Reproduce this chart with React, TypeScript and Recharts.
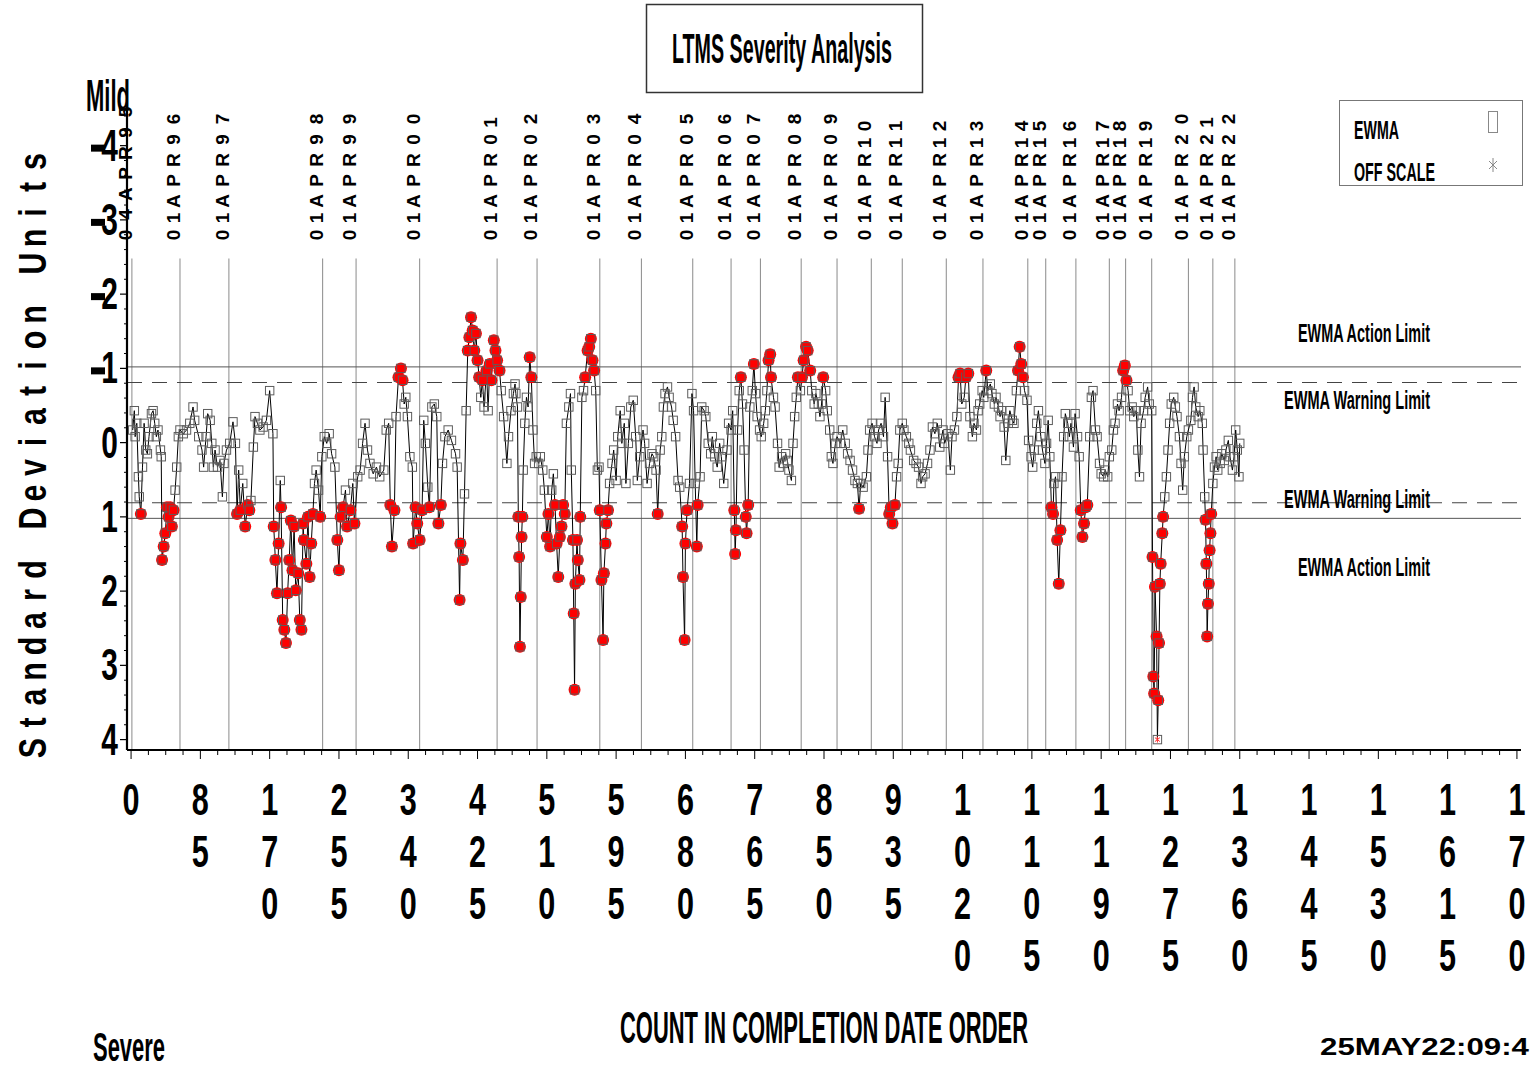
import React from 'react';
import { ComposedChart, Line, XAxis, YAxis, ReferenceLine } from 'recharts';

type Pt = [number, number];

// EWMA values: [count in completion order, standard deviation units]
const ewmaPart1: Pt[] = [
  [2,-0.17],[4,-0.43],[5,-0.08],[7,-0.26],[9,0.46],[10,0.73],[12,0.96],[14,0.33],[16,-0.26],[18,0.1],
  [20,0.15],[22,-0.08],[25,-0.39],[27,-0.43],[29,-0.26],[31,-0.08],[33,-0.17],[36,0.1],[37,0.19],[38,1.58],
  [40,1.4],[42,1.22],[44,0.87],[46,1.0],[48,0.87],[50,1.13],[52,0.91],[54,0.64],[56,0.33],[58,-0.08],
  [60,-0.17],[64,-0.12],[68,-0.17],[72,-0.26],[76,-0.48],[78,-0.3],[83,-0.08],[87,0.1],[89,0.33],[92,-0.08],
  [94,-0.39],[97,-0.3],[99,0.01],[101,0.33],[103,0.1],[106,0.33],[109,0.24],[112,0.73],[114,0.28],[117,0.1],
  [121,0.01],[125,-0.28],[128,0.01],[130,0.96],[132,0.37],[134,0.91],[137,0.55],[140,1.13],[143,0.84],[145,0.91],
  [147,0.78],[150,0.06],[152,-0.35],[155,-0.26],[158,-0.17],[162,-0.21],[166,-0.3],[170,-0.7],[174,-0.12],[175,1.13],
  [177,1.58],[179,2.03],[181,1.36],[183,0.51],[184,0.87],[186,2.39],[188,2.52],[190,2.7],[192,2.03],[194,1.58],
  [196,1.05],[198,1.72],[200,1.13],[202,1.99],[205,1.76],[207,2.39],[209,2.52],[211,1.09],[212,1.31],[215,1.63],
  [217,1.0],[219,1.81],[221,1.36],[223,0.96],[225,0.55],[227,0.37],[230,0.64],[232,1.0],[234,0.19],[237,-0.08],
  [240,0.01],[243,-0.12],[246,0.15],[250,0.33],[253,1.31],[255,1.72],[257,1.0],[260,0.87],[263,0.64],[265,1.13],
  [269,0.91],[272,0.55],[274,1.09],[278,0.46],[281,0.37],[284,0.01],[287,-0.26],[290,0.1],[293,0.28],[297,0.42],
  [301,0.33],[305,0.46],[310,0.37],[313,-0.17],[316,-0.26],[318,0.84],[320,1.4],[323,0.91],[325,-0.35],[328,-0.88],
  [331,-1.0],[333,-0.84],[335,-0.52],[337,-0.61],[339,-0.35],[342,0.19],[345,0.33],[346,1.36],[349,0.87],[351,1.09],
  [354,1.31],[357,0.91],[359,-0.3],[361,0.01],[364,0.6],[366,0.87],[369,-0.48],[372,-0.52],[375,-0.35],[377,1.09],
  [380,0.84],[382,0.28],[385,-0.08],[389,-0.17],[393,-0.03],[398,0.15],[400,0.33],[403,2.12],[404,1.36],[407,1.58],
  [409,0.69],[411,-0.43],[413,-1.24],[415,-1.42],[417,-1.69],[419,-1.51],[421,-1.24],[423,-1.47],[425,-1.11],[427,-0.88],
  [429,-0.61],[431,-0.84],[433,-0.48],[436,-0.97],[438,-0.43],[440,-1.06],[442,-0.84],[445,-1.38],[447,-1.24],[449,-1.11],
  [452,-0.97],[454,-0.7],[457,-0.35],[461,0.28],[463,-0.08],[466,-0.43],[469,-0.66],[471,-0.79],
];

const ewmaPart2: Pt[] = [
  [472,-0.66],[474,-0.48],[475,1.0],[476,1.54],[477,2.75],[478,2.08],[479,1.27],[480,1.0],[481,0.37],[483,-0.26],
  [485,-0.61],[487,-0.48],[489,-1.15],[491,-0.88],[493,-0.17],[495,0.28],[497,0.19],[500,0.28],[502,0.19],[505,0.37],
  [507,0.64],[510,1.27],[512,0.96],[514,1.4],[516,0.64],[518,0.42],[520,0.84],[522,1.36],[524,1.81],[526,1.27],
  [528,1.13],[530,0.84],[532,0.96],[534,-0.26],[537,-0.48],[539,-0.66],[540,0.37],[542,1.31],[543,2.3],[544,3.33],
  [545,1.9],[547,1.31],[548,1.58],[550,1.85],[551,1.0],[553,-0.61],[555,-0.7],[557,-0.88],[560,-1.24],[562,-1.29],
  [564,-1.4],[566,-1.11],[568,-0.97],[570,-0.7],[572,0.37],[574,0.33],[575,0.91],[577,1.85],[579,2.66],[580,1.76],
  [582,1.36],[583,1.09],[585,0.91],[587,0.55],[590,0.28],[592,0.1],[595,0.51],[597,-0.08],[600,-0.43],[602,0.01],
  [605,-0.26],[607,0.55],[610,0.01],[613,-0.48],[616,-0.57],[619,-0.08],[621,0.51],[624,0.19],[628,-0.17],[630,0.01],
  [633,0.55],[636,0.28],[639,0.15],[641,0.19],[644,0.37],[646,0.96],[649,0.1],[651,-0.08],[653,-0.48],[655,-0.66],
  [658,-0.75],[660,-0.61],[663,-0.48],[665,-0.3],[668,-0.08],[671,0.51],[673,0.6],[676,1.13],[677,1.81],[679,2.66],
  [680,1.36],[682,0.91],[685,0.55],[688,-0.66],[690,-0.43],[692,0.55],[694,1.4],[695,0.84],[698,0.46],[700,-0.48],
  [703,-0.43],[705,-0.35],[708,0.01],[711,0.15],[713,-0.08],[716,0.19],[719,0.33],[722,0.01],[724,0.19],[727,0.55],
  [731,0.1],[733,-0.26],[736,-0.17],[738,-0.43],[740,0.91],[741,1.5],[742,1.18],[744,-0.17],[746,-0.7],[748,-0.88],
  [750,-0.52],[752,0.1],[754,1.0],[755,1.22],[757,0.84],[759,-0.48],[762,-0.7],[764,-1.06],[766,-0.66],[768,-0.35],
  [771,-0.17],[773,-0.08],[776,-0.26],[778,-0.43],[780,-0.7],[782,-1.11],[784,-1.19],[785,-0.88],[788,-0.61],[790,-0.48],
  [793,0.01],[795,0.33],[798,0.19],[800,0.28],[803,0.15],[805,0.24],[807,0.37],[810,0.51],[812,0.01],[814,-0.35],
  [816,-0.61],[818,-0.88],[821,-0.7],[823,-0.88],[825,-1.11],[828,-1.29],[830,-1.24],[833,-0.97],[835,-0.7],[838,-0.52],
  [840,-0.66],[843,-0.52],[845,-0.35],[847,-0.52],[849,-0.88],[852,-0.7],[854,-0.43],[857,-0.17],[859,0.19],[861,0.28],
  [864,0.01],[866,-0.08],[870,0.01],[873,-0.17],[876,0.01],[879,0.15],[882,0.24],[885,0.37],[888,0.51],[891,0.55],
  [893,0.89],[895,0.55],[898,0.6],[902,0.46],[904,0.1],[906,-0.17],[909,-0.26],[912,-0.08],[915,0.01],[917,-0.17],
  [920,-0.26],[923,-0.08],[925,-0.61],[928,0.19],[930,0.96],[932,0.87],[934,1.09],[937,0.84],[939,0.46],
];

const ewmaPart3: Pt[] = [
  [941,0.28],[943,-0.17],[946,-0.26],[948,-0.17],[951,-0.08],[954,0.01],[956,0.1],[960,0.24],[963,0.28],[966,0.33],
  [969,0.55],[971,0.46],[974,0.42],[977,0.28],[980,0.1],[983,-0.21],[986,-0.12],[989,-0.26],[992,0.06],[996,-0.17],
  [998,0.01],[1002,-0.12],[1005,0.37],[1007,-0.08],[1010,-0.17],[1013,-0.35],[1015,-0.88],[1017,-0.93],[1019,-0.52],[1022,-0.61],
  [1024,-0.88],[1027,-0.93],[1029,-0.35],[1032,-0.08],[1034,-0.26],[1037,-0.17],[1039,-0.43],[1041,-0.52],[1044,-0.7],[1046,-0.61],
  [1049,-0.97],[1051,-0.7],[1054,-0.79],[1056,-0.66],[1059,-0.52],[1061,-0.61],[1064,-0.48],[1066,-0.35],[1068,-0.43],[1071,-0.21],
  [1073,0.24],[1076,-0.26],[1078,-0.43],[1081,-0.3],[1083,-0.26],[1086,-0.7],[1088,-0.97],[1090,-1.29],[1092,-1.06],[1094,-0.88],
  [1096,-0.7],[1099,-0.57],[1101,-0.03],[1104,0.19],[1106,0.33],[1108,0.1],[1111,-0.26],[1113,-0.43],[1116,-0.08],[1118,0.1],
  [1121,0.28],[1123,0.01],[1125,-0.3],[1127,0.19],[1129,0.87],[1131,0.96],[1132,0.55],[1134,0.46],[1136,1.31],[1138,1.9],
  [1140,1.18],[1142,0.46],[1144,-0.08],[1146,-0.39],[1149,-0.26],[1151,-0.08],[1153,-0.26],[1156,0.06],[1158,-0.39],[1161,-0.08],
  [1163,0.19],[1165,0.91],[1167,1.27],[1169,1.09],[1171,0.87],[1173,0.84],[1176,-0.08],[1178,-0.61],[1180,-0.7],[1183,-0.17],
  [1185,-0.08],[1188,0.28],[1190,0.42],[1193,0.46],[1195,0.37],[1198,0.46],[1200,0.19],[1203,0.1],[1205,-0.17],[1207,-0.26],
  [1210,-0.52],[1212,-0.43],[1215,-0.61],[1217,-0.97],[1219,-1.04],[1221,-0.84],[1223,-0.7],[1225,-0.43],[1228,-0.48],[1230,-0.35],
  [1233,-0.43],[1235,0.1],[1237,0.46],[1239,-0.26],[1242,-0.43],[1244,-0.61],[1247,-0.75],[1249,-0.52],[1252,-0.43],[1253,1.54],
  [1254,3.15],[1255,3.38],[1256,1.94],[1258,2.61],[1259,4.4],[1260,3.47],[1261,2.7],[1262,1.9],[1263,1.63],[1265,1.22],
  [1266,1.0],[1268,0.73],[1270,0.46],[1272,0.1],[1274,-0.26],[1276,-0.52],[1279,-0.61],[1281,-0.48],[1283,-0.35],[1286,-0.08],
  [1288,0.28],[1290,0.64],[1292,0.19],[1295,-0.08],[1297,-0.17],[1300,-0.3],[1302,-0.61],[1304,-0.75],[1306,-0.48],[1309,-0.35],
  [1311,-0.43],[1314,-0.26],[1315,0.1],[1317,0.73],[1318,1.04],[1319,1.63],[1320,2.61],[1321,2.17],[1322,1.9],[1323,1.45],
  [1324,1.22],[1325,0.96],[1327,0.55],[1329,0.33],[1331,0.19],[1333,0.37],[1336,0.28],[1338,0.15],[1341,0.24],[1343,0.1],
  [1346,-0.03],[1348,0.19],[1351,0.37],[1353,0.19],[1355,-0.17],[1357,0.1],[1359,0.46],[1360,0.01],
];

const dateLineCounts = [1, 60, 120, 235, 276, 354, 449, 498, 575, 626, 689, 736, 772, 822, 866, 908, 946, 1000, 1045, 1100, 1122, 1159, 1200, 1220, 1252, 1297, 1327, 1354];
const dateLineLabels = ['04APR95', '01APR96', '01APR97', '01APR98', '01APR99', '01APR00', '01APR01', '01APR02', '01APR03', '01APR04', '01APR05', '01APR06', '01APR07', '01APR08', '01APR09', '01APR10', '01APR11', '01APR12', '01APR13', '01APR14', '01APR15', '01APR16', '01APR17', '01APR18', '01APR19', '01APR20', '01APR21', '01APR22'];

const xMajorTicks = [0, 85, 170, 255, 340, 425, 510, 595, 680, 765, 850, 935, 1020, 1105, 1190, 1275, 1360, 1445, 1530, 1615, 1700];
const yMajorTicks = [-4, -3, -2, -1, 0, 1, 2, 3, 4];

const ACTION_LIMIT = 1.02;
const WARNING_LIMIT = 0.81;
const OFF_SCALE_LIMIT = 4;
const X_DOMAIN: [number, number] = [-5, 1705];
const Y_DOMAIN: [number, number] = [-4.48, 4.14];
const DATE_LINE_TOP = -2.48;
const Y_TITLE = 'Standard Deviation Units';

const FONT = '"Liberation Sans", Arial, Helvetica, sans-serif';

const points = [...ewmaPart1, ...ewmaPart2, ...ewmaPart3].map(([count, value]) => ({
  count,
  ewma: value,
  plotted: Math.min(value, OFF_SCALE_LIMIT),
  off: value > OFF_SCALE_LIMIT,
}));

const xAllTicks: number[] = [];
xMajorTicks.forEach((t, i) => {
  xAllTicks.push(t);
  if (i < xMajorTicks.length - 1) {
    const step = (xMajorTicks[i + 1] - t) / 4;
    for (let k = 1; k < 4; k++) xAllTicks.push(t + step * k);
  }
});
const yAllTicks: number[] = [];
for (let k = -22; k <= 20; k++) yAllTicks.push(Math.round(k * 2) / 10);

const isMajorY = (v: number) => yMajorTicks.indexOf(v) >= 0;
const isMajorX = (v: number) => xMajorTicks.indexOf(v) >= 0;

const XTick = (props: any) => {
  const { x, y, payload } = props;
  const v = payload.value;
  if (!isMajorX(v)) {
    return <line x1={x} x2={x} y1={y} y2={y + 5} stroke="#000" strokeWidth={1} />;
  }
  const s = String(v);
  return (
    <g>
      <line x1={x} x2={x} y1={y} y2={y + 9} stroke="#000" strokeWidth={1} />
      {s.split('').map((ch, k) => (
        <text
          key={k}
          x={0}
          y={0}
          transform={`translate(${x},${815 + 52 * k}) scale(0.68,1)`}
          textAnchor="middle"
          fontFamily={FONT}
          fontWeight="bold"
          fontSize={45}
          fill="#000"
        >
          {ch}
        </text>
      ))}
    </g>
  );
};

const YTick = (props: any) => {
  const { x, y, payload } = props;
  const v = payload.value;
  if (!isMajorY(v)) {
    return <line x1={x - 3} x2={x} y1={y} y2={y} stroke="#000" strokeWidth={1} />;
  }
  return (
    <g>
      <line x1={x - 7} x2={x} y1={y} y2={y} stroke="#000" strokeWidth={1.2} />
      {v < 0 && <rect x={x - 36} y={y - 1} width={14} height={7} fill="#000" />}
      <text
        x={0}
        y={0}
        transform={`translate(${x - 9},${y + 15}) scale(0.68,1)`}
        textAnchor="end"
        fontFamily={FONT}
        fontWeight="bold"
        fontSize={44}
        fill="#000"
      >
        {Math.abs(v)}
      </text>
    </g>
  );
};

const DateTick = (props: any) => {
  const { x, payload } = props;
  const label = dateLineLabels[dateLineCounts.indexOf(payload.value)] ?? '';
  const chars = label.split('');
  let cy = 235;
  const items: React.ReactNode[] = [];
  chars.forEach((ch, k) => {
    if (k > 0) {
      const prev = chars[k - 1];
      cy -= prev === '1' || ch === '1' ? 17 : 20.5;
    }
    items.push(
      <text
        key={k}
        x={x}
        y={cy}
        transform={`rotate(-90, ${x}, ${cy})`}
        textAnchor="middle"
        fontFamily={FONT}
        fontWeight="bold"
        fontSize={19}
        fill="#000"
      >
        {ch}
      </text>
    );
  });
  return <g>{items}</g>;
};

const renderDot = (p: any) => {
  const { cx, cy, payload, index } = p;
  if (cx == null || cy == null) return <g key={`e${index}`} />;
  const flagged = Math.abs(payload.ewma) > WARNING_LIMIT && !payload.off;
  return (
    <g key={`d${index}`}>
      {flagged && <circle cx={cx} cy={cy} r={6} fill="#ff0000" />}
      <rect x={cx - 4.2} y={cy - 4.2} width={8.4} height={8.4} fill="none" stroke="#5c5c5c" strokeWidth={1} />
      {payload.off && (
        <g stroke="#ff3030" strokeWidth={1}>
          <line x1={cx} x2={cx} y1={cy - 3} y2={cy + 3} />
          <line x1={cx - 2.5} x2={cx + 2.5} y1={cy - 2} y2={cy + 2} />
          <line x1={cx - 2.5} x2={cx + 2.5} y1={cy + 2} y2={cy - 2} />
        </g>
      )}
    </g>
  );
};

const TextFit = ({ x, y, w, size, children, weight = 'bold' }: any) => (
  <text
    x={x}
    y={y}
    fontFamily={FONT}
    fontWeight={weight}
    fontSize={size}
    textLength={w}
    lengthAdjust="spacingAndGlyphs"
    fill="#000"
  >
    {children}
  </text>
);

export default function App() {
  return (
    <div style={{ position: 'absolute', left: 0, top: 0, width: 1531, height: 1067, background: '#fff' }}>
      <ComposedChart
        width={1531}
        height={1067}
        data={points}
        margin={{ top: 109, left: 126, right: 10, bottom: 316 }}
      >
        <XAxis
          xAxisId="bottom"
          type="number"
          dataKey="count"
          domain={X_DOMAIN}
          ticks={xAllTicks}
          interval={0}
          height={1}
          tickSize={0}
          tickMargin={0}
          tickLine={false}
          axisLine={{ stroke: '#000', strokeWidth: 2.2 }}
          tick={<XTick />}
          allowDataOverflow
        />
        <XAxis
          xAxisId="dates"
          orientation="top"
          type="number"
          dataKey="count"
          domain={X_DOMAIN}
          ticks={dateLineCounts}
          interval={0}
          height={1}
          tickSize={0}
          tickMargin={0}
          tickLine={false}
          axisLine={false}
          tick={<DateTick />}
          allowDataOverflow
        />
        <YAxis
          type="number"
          reversed
          domain={Y_DOMAIN}
          ticks={yAllTicks}
          interval={0}
          width={1}
          tickSize={0}
          tickMargin={0}
          tickLine={false}
          axisLine={{ stroke: '#000', strokeWidth: 2.2 }}
          tick={<YTick />}
          allowDataOverflow
        />
        {dateLineCounts.map((c) => (
          <ReferenceLine
            key={`dl${c}`}
            xAxisId="bottom"
            segment={[{ x: c, y: DATE_LINE_TOP }, { x: c, y: Y_DOMAIN[1] }]}
            stroke="#8a8a8a"
            strokeWidth={1}
          />
        ))}
        <ReferenceLine xAxisId="bottom" y={-ACTION_LIMIT} stroke="#555" strokeWidth={1} />
        <ReferenceLine xAxisId="bottom" y={ACTION_LIMIT} stroke="#555" strokeWidth={1} />
        <ReferenceLine xAxisId="bottom" y={-WARNING_LIMIT} stroke="#444" strokeWidth={1.2} strokeDasharray="15 10" />
        <ReferenceLine xAxisId="bottom" y={WARNING_LIMIT} stroke="#444" strokeWidth={1.2} strokeDasharray="15 10" />
        <Line
          xAxisId="bottom"
          type="linear"
          dataKey="plotted"
          stroke="none"
          dot={renderDot}
          activeDot={false}
          isAnimationActive={false}
        />
        <Line
          xAxisId="bottom"
          type="linear"
          dataKey="plotted"
          stroke="#000"
          strokeWidth={1}
          dot={false}
          activeDot={false}
          isAnimationActive={false}
        />
      </ComposedChart>
      <svg
        width={1531}
        height={1067}
        style={{ position: 'absolute', left: 0, top: 0, pointerEvents: 'none' }}
      >
        <rect x={646.5} y={4.5} width={276} height={88} fill="none" stroke="#333" strokeWidth={1.5} />
        <TextFit x={672} y={63} w={220} size={42}>LTMS Severity Analysis</TextFit>
        <TextFit x={86} y={111} w={44} size={44}>Mild</TextFit>
        <TextFit x={93} y={1061} w={72} size={40}>Severe</TextFit>
        <TextFit x={620} y={1043} w={408} size={45}>COUNT IN COMPLETION DATE ORDER</TextFit>
        <TextFit x={1320} y={1055} w={209} size={24}>25MAY22:09:4</TextFit>
        {Y_TITLE.split('').map((ch, k) => (
          <text
            key={k}
            x={0}
            y={0}
            transform={`translate(46,${748 - 25.5 * k}) rotate(-90) scale(0.8,1)`}
            textAnchor="middle"
            fontFamily={FONT}
            fontWeight="bold"
            fontSize={38}
            fill="#000"
          >
            {ch}
          </text>
        ))}
        <rect x={1339.5} y={100.5} width={183} height={85} fill="none" stroke="#777" strokeWidth={1} />
        <TextFit x={1354} y={139} w={45} size={25}>EWMA</TextFit>
        <TextFit x={1354} y={181} w={81} size={25}>OFF SCALE</TextFit>
        <rect x={1488.5} y={111.5} width={9} height={21} fill="none" stroke="#888" strokeWidth={1} />
        <g stroke="#888" strokeWidth={1}>
          <line x1={1493} x2={1493} y1={158} y2={172} />
          <line x1={1489} x2={1497} y1={161} y2={169} />
          <line x1={1489} x2={1497} y1={169} y2={161} />
        </g>
        <TextFit x={1298} y={342} w={132} size={25}>EWMA Action Limit</TextFit>
        <TextFit x={1284} y={409} w={146} size={25}>EWMA Warning Limit</TextFit>
        <TextFit x={1284} y={508} w={146} size={25}>EWMA Warning Limit</TextFit>
        <TextFit x={1298} y={576} w={132} size={25}>EWMA Action Limit</TextFit>
      </svg>
    </div>
  );
}
